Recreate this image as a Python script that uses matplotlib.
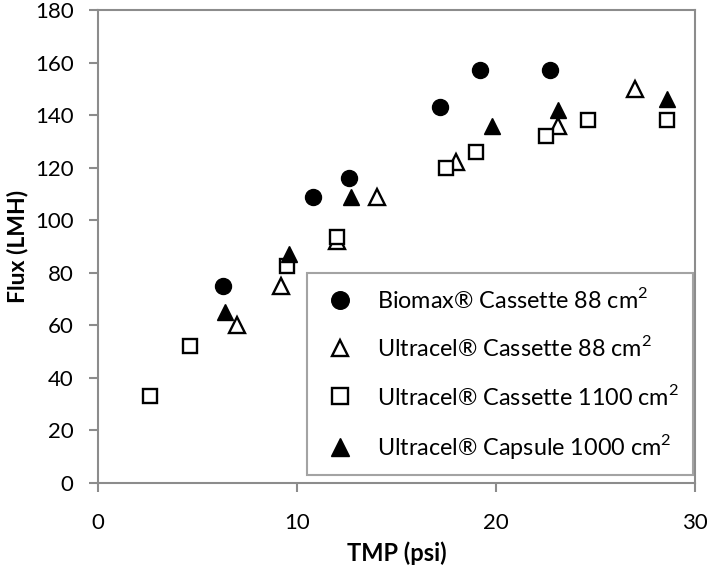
import matplotlib
matplotlib.use("Agg")
from matplotlib import pyplot as plt

plt.rcParams["font.family"] = ["Lato", "DejaVu Sans"]

biomax_x = [6.3, 10.8, 12.6, 17.2, 19.2, 22.7]
biomax_y = [75, 109, 116, 143, 157, 157]

cas88_x = [7.0, 9.2, 12.0, 14.0, 18.0, 23.1, 27.0]
cas88_y = [60, 75, 92, 109, 122, 136, 150]

cas1100_x = [2.6, 4.6, 9.5, 12.0, 17.5, 19.0, 22.5, 24.6, 28.6]
cas1100_y = [33, 52, 82.5, 93.5, 120, 126, 132, 138, 138]

caps_x = [6.4, 9.6, 12.7, 19.8, 23.1, 28.6]
caps_y = [65, 87, 109, 136, 142, 146]

sq = r"$^{\mathregular{2}}$"
labels = ["Biomax\u00ae Cassette 88 cm" + sq,
          "Ultracel\u00ae Cassette 88 cm" + sq,
          "Ultracel\u00ae Cassette 1100 cm" + sq,
          "Ultracel\u00ae Capsule 1000 cm" + sq]

fig = plt.figure(figsize=(7.09, 5.70), dpi=100)
ax = fig.add_axes([98 / 709, 1 - 483 / 570, (695 - 98) / 709, (483 - 10) / 570])

ax.plot(biomax_x, biomax_y, "o", ms=11.5, color="black", label=labels[0])
ax.plot(cas88_x, cas88_y, "^", ms=11, mfc="white", mec="black", mew=1.7,
        label=labels[1])
ax.plot(cas1100_x, cas1100_y, "s", ms=10, mfc="white", mec="black", mew=1.7,
        label=labels[2])
ax.plot(caps_x, caps_y, "^", ms=11.5, color="black", label=labels[3])

ax.set_xlim(0, 30)
ax.set_ylim(0, 180)
ax.set_xticks([0, 10, 20, 30])
ax.set_yticks(range(0, 181, 20))

for s in ax.spines.values():
    s.set_color("#8c8c8c")
    s.set_linewidth(1.5)
ax.tick_params(direction="out", length=6.5, width=1.5, color="#8c8c8c",
               labelsize=16)
ax.tick_params(axis="x", pad=15)
ax.tick_params(axis="y", pad=11)

ax.set_xlabel("TMP (psi)", fontsize=17, fontweight="bold", labelpad=6)
ax.set_ylabel("Flux (LMH)", fontsize=16.5, fontweight="bold", labelpad=5)

leg = ax.legend(loc="lower right", bbox_to_anchor=(0.9966, 0.017),
                borderaxespad=0, fontsize=16.8, frameon=True, fancybox=False,
                labelspacing=1.0, handletextpad=0.8, borderpad=0.6,
                handlelength=1.6, markerscale=1.1)
leg.get_frame().set_edgecolor("#8c8c8c")
leg.get_frame().set_linewidth(1.5)

fig.savefig("out.png", dpi=100)
